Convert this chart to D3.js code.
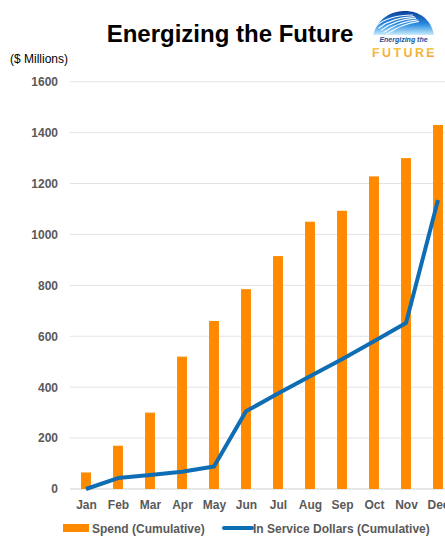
<!DOCTYPE html>
<html>
<head>
<meta charset="utf-8">
<script src="https://cdn.jsdelivr.net/npm/d3@7"></script>
<style>
  html, body { margin: 0; padding: 0; background: #fff; }
  svg { display: block; font-family: "Liberation Sans", Arial, sans-serif; }
</style>
</head>
<body>
<svg id="chart" width="445" height="537"></svg>
<script>
// Monthly cumulative figures, $ millions
const months = ["Jan", "Feb", "Mar", "Apr", "May", "Jun", "Jul", "Aug", "Sep", "Oct", "Nov", "Dec"];
const spend = [65, 170, 300, 520, 660, 785, 915, 1050, 1093, 1228, 1300, 1430];
const inService = [0, 43, 55, 68, 88, 305, 375, 443, 510, 580, 652, 1135];
const yTicks = [0, 200, 400, 600, 800, 1000, 1200, 1400, 1600];

const svg = d3.select("#chart");
const left = 70, bandW = 32;
const x = d3.scaleBand().domain(months).range([left, left + bandW * months.length]).paddingInner(0.69).paddingOuter(0.345);
const xc = d3.scalePoint().domain(months).range([left + bandW / 2, left + bandW * (months.length - 0.5)]);
const y = d3.scaleLinear().domain([0, 1600]).range([489, 81.7]);

// Title
svg.append("text").attr("x", 230).attr("y", 42).attr("text-anchor", "middle")
  .attr("font-size", 24).attr("font-weight", "bold").attr("fill", "#000")
  .text("Energizing the Future");

// Logo: sky dome with light streaks and wordmark
const logo = svg.append("g").attr("transform", "translate(373,11)");
const defs = svg.append("defs");
const sky = defs.append("linearGradient").attr("id", "sky").attr("x1", 0).attr("y1", 0).attr("x2", 0).attr("y2", 1);
sky.append("stop").attr("offset", 0).attr("stop-color", "#0a3c9a");
sky.append("stop").attr("offset", 0.55).attr("stop-color", "#2a8ce0");
sky.append("stop").attr("offset", 1).attr("stop-color", "#c9ecfc");
const gold = defs.append("linearGradient").attr("id", "gold").attr("x1", 0).attr("y1", 0).attr("x2", 0).attr("y2", 1);
gold.append("stop").attr("offset", 0).attr("stop-color", "#f7cf4a");
gold.append("stop").attr("offset", 1).attr("stop-color", "#f29a25");
logo.append("path").attr("d", "M0,24 C6,4 22,0 32,0 C46,0 58,8 61,24 Z").attr("fill", "url(#sky)");
[0, 1, 2, 3, 4].forEach(i => {
  logo.append("path")
    .attr("d", `M${3 + i * 2.5},${15 + i * 2.2} Q${16 + i * 3},${4 + i * 2.2} ${40 + i * 1.5},${4 + i * 1.6}`)
    .attr("fill", "none").attr("stroke", "#eef8ff").attr("stroke-width", 1.2);
});
logo.append("text").attr("x", 30.5).attr("y", 31).attr("text-anchor", "middle")
  .attr("font-size", 7).attr("font-style", "italic").attr("font-weight", "bold").attr("fill", "#1d4f9a")
  .text("Energizing the");
logo.append("text").attr("x", 31.5).attr("y", 45.5).attr("text-anchor", "middle")
  .attr("font-size", 12.5).attr("font-weight", "bold").attr("letter-spacing", 2.4).attr("fill", "url(#gold)")
  .text("FUTURE");

// Unit label
svg.append("text").attr("x", 10).attr("y", 63).attr("font-size", 12).attr("fill", "#000").text("($ Millions)");

// Gridlines and y tick labels
const grid = svg.append("g");
grid.selectAll("line").data(yTicks).join("line")
  .attr("x1", left).attr("x2", 445)
  .attr("y1", d => y(d)).attr("y2", d => y(d))
  .attr("stroke", d => d === 0 ? "#cfcfcf" : "#e3e3e3").attr("stroke-width", 1);
const yAxis = svg.append("g").attr("transform", `translate(${left - 12},0)`)
  .call(d3.axisLeft(y).tickValues(yTicks).tickFormat(d3.format("d")).tickSize(0).tickPadding(0));
yAxis.select(".domain").remove();
yAxis.selectAll("text").attr("font-size", 12).attr("font-weight", "bold").attr("fill", "#595959")
  .attr("font-family", "Liberation Sans, Arial, sans-serif");

// Bars
svg.append("g").selectAll("rect").data(months).join("rect")
  .attr("x", (d) => x(d)).attr("width", x.bandwidth())
  .attr("y", (d, i) => y(spend[i])).attr("height", (d, i) => y(0) - y(spend[i]))
  .attr("fill", "#ff8a00");

// Line
const line = d3.line().x((d, i) => xc(months[i])).y(d => y(d));
svg.append("path").datum(inService).attr("d", line)
  .attr("fill", "none").attr("stroke", "#0e6db3").attr("stroke-width", 4).attr("stroke-linejoin", "round");

// X axis labels
const xAxis = svg.append("g").attr("transform", `translate(0,${y(0)})`)
  .call(d3.axisBottom(xc).tickSize(0).tickPadding(11));
xAxis.select(".domain").remove();
xAxis.selectAll("text").attr("font-size", 12).attr("font-weight", "bold").attr("fill", "#595959")
  .attr("font-family", "Liberation Sans, Arial, sans-serif");

// Legend
const lg = svg.append("g");
lg.append("rect").attr("x", 63).attr("y", 524).attr("width", 26).attr("height", 8).attr("fill", "#ff8a00");
lg.append("text").attr("x", 92).attr("y", 532.5).attr("font-size", 12).attr("font-weight", "bold").attr("fill", "#595959")
  .text("Spend (Cumulative)");
lg.append("line").attr("x1", 224).attr("x2", 252).attr("y1", 528).attr("y2", 528)
  .attr("stroke", "#0e6db3").attr("stroke-width", 4).attr("stroke-linecap", "round");
lg.append("text").attr("x", 253).attr("y", 532.5).attr("font-size", 12).attr("font-weight", "bold").attr("fill", "#595959")
  .text("In Service Dollars (Cumulative)");
</script>
</body>
</html>
